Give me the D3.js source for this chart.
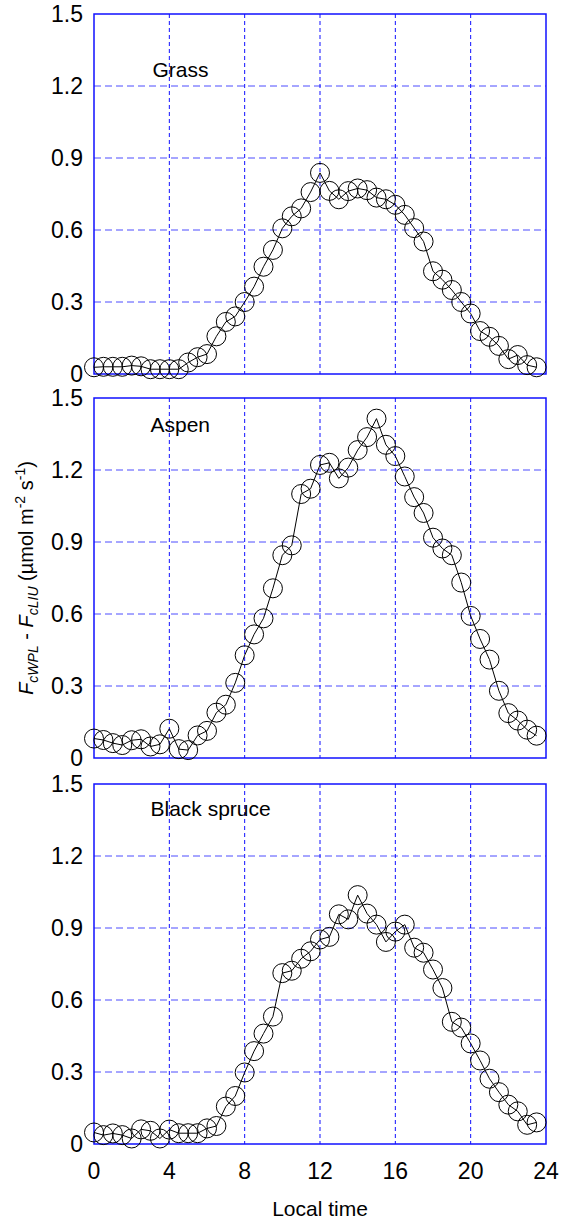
<!DOCTYPE html>
<html>
<head>
<meta charset="utf-8">
<script src="https://cdn.jsdelivr.net/npm/d3@7/dist/d3.min.js"></script>
<style>
  body { margin: 0; background: #fff; }
  svg text { font-family: Arial, "Liberation Sans", sans-serif; fill: #000; }
</style>
</head>
<body>
<div id="chart"></div>
<script>
// half-hourly local time
const hours = [0, 0.5, 1, 1.5, 2, 2.5, 3, 3.5, 4, 4.5, 5, 5.5, 6, 6.5, 7, 7.5,
    8, 8.5, 9, 9.5, 10, 10.5, 11, 11.5, 12, 12.5, 13, 13.5, 14, 14.5, 15, 15.5,
    16, 16.5, 17, 17.5, 18, 18.5, 19, 19.5, 20, 20.5, 21, 21.5, 22, 22.5, 23, 23.5];

const grass = [0.028, 0.030, 0.030, 0.030, 0.035, 0.032, 0.020, 0.020, 0.020, 0.020, 0.048, 0.070,
    0.083, 0.157, 0.217, 0.240, 0.300, 0.364, 0.447, 0.517, 0.607, 0.657, 0.690, 0.758,
    0.838, 0.763, 0.728, 0.762, 0.773, 0.766, 0.735, 0.728, 0.705, 0.663, 0.608, 0.552,
    0.428, 0.393, 0.350, 0.300, 0.252, 0.179, 0.155, 0.117, 0.062, 0.079, 0.037, 0.028];

const aspen = [0.081, 0.075, 0.062, 0.054, 0.074, 0.078, 0.048, 0.057, 0.122, 0.037, 0.033, 0.094,
    0.113, 0.189, 0.222, 0.313, 0.428, 0.515, 0.582, 0.707, 0.845, 0.886, 1.100, 1.122,
    1.221, 1.230, 1.165, 1.210, 1.283, 1.337, 1.414, 1.305, 1.258, 1.173, 1.087, 1.021,
    0.918, 0.873, 0.845, 0.731, 0.592, 0.496, 0.410, 0.280, 0.187, 0.156, 0.118, 0.093];

const spruce = [0.048, 0.037, 0.044, 0.037, 0.023, 0.061, 0.055, 0.023, 0.060, 0.045, 0.045, 0.045,
    0.065, 0.075, 0.156, 0.200, 0.298, 0.387, 0.460, 0.531, 0.712, 0.722, 0.772, 0.803,
    0.852, 0.863, 0.957, 0.936, 1.037, 0.960, 0.914, 0.842, 0.885, 0.914, 0.818, 0.797,
    0.727, 0.650, 0.509, 0.485, 0.419, 0.348, 0.272, 0.216, 0.164, 0.136, 0.080, 0.090];

const panelNames = ["Grass", "Aspen", "Black spruce"];
const panelSeries = [grass, aspen, spruce];

const xTicks = [0, 4, 8, 12, 16, 20, 24];
const yTicks = [0, 0.3, 0.6, 0.9, 1.2, 1.5];

// layout
const width = 566, height = 1223;
const left = 94, right = 546;
const panelTops = [14, 398, 784];
const panelH = 360;
const nameAt = [[3.1, 1.2375], [3.0, 1.36], [3.0, 1.365]];   // [hour, value] of panel label baseline
const blue = "#1010ff";

const svg = d3.select("#chart").append("svg")
    .attr("width", width)
    .attr("height", height);

const x = d3.scaleLinear().domain([0, 24]).range([left, right]);

panelSeries.forEach(function (series, i) {
    const top = panelTops[i];
    const y = d3.scaleLinear().domain([0, 1.5]).range([top + panelH, top]);
    const g = svg.append("g");

    // horizontal grid
    g.selectAll(".hgrid")
        .data(yTicks.slice(1, -1))
        .enter().append("line")
        .attr("x1", left).attr("x2", right)
        .attr("y1", d => y(d)).attr("y2", d => y(d))
        .style("stroke", blue)
        .style("stroke-opacity", 0.75)
        .style("stroke-width", 1)
        .style("stroke-dasharray", "7,4");

    // vertical grid
    g.selectAll(".vgrid")
        .data(xTicks.slice(1, -1))
        .enter().append("line")
        .attr("x1", d => x(d)).attr("x2", d => x(d))
        .attr("y1", top).attr("y2", top + panelH)
        .style("stroke", blue)
        .style("stroke-width", 1)
        .style("stroke-dasharray", "4,3");

    // frame
    g.append("rect")
        .attr("x", left).attr("y", top)
        .attr("width", right - left).attr("height", panelH)
        .style("fill", "none")
        .style("stroke", blue)
        .style("stroke-width", 1.5);

    // y tick labels
    g.selectAll(".ytick")
        .data(yTicks)
        .enter().append("text")
        .attr("x", left - 11)
        .attr("y", d => y(d))
        .attr("dy", "0.33em")
        .attr("text-anchor", "end")
        .style("font-size", "23px")
        .text(d => d === 0 ? "0" : d3.format(".1f")(d));

    // data line + open circles
    const pts = series.map((v, k) => [hours[k], v]);
    g.append("path")
        .datum(pts)
        .attr("d", d3.line().x(d => x(d[0])).y(d => y(d[1])))
        .style("fill", "none")
        .style("stroke", "#000")
        .style("stroke-width", 1);

    g.selectAll(".pt")
        .data(pts)
        .enter().append("circle")
        .attr("cx", d => x(d[0]))
        .attr("cy", d => y(d[1]))
        .attr("r", 9.5)
        .style("fill", "none")
        .style("stroke", "#000")
        .style("stroke-width", 1);

    g.append("text")
        .attr("x", x(nameAt[i][0]))
        .attr("y", y(nameAt[i][1]))
        .style("font-size", "21px")
        .text(panelNames[i]);
});

// x tick labels on bottom panel
const bottom = panelTops[2] + panelH;
svg.selectAll(".xtick")
    .data(xTicks)
    .enter().append("text")
    .attr("x", d => x(d))
    .attr("y", bottom + 35)
    .attr("text-anchor", "middle")
    .style("font-size", "23px")
    .text(d => d);

svg.append("text")
    .attr("x", (left + right) / 2)
    .attr("y", bottom + 72)
    .attr("text-anchor", "middle")
    .style("font-size", "21px")
    .text("Local time");

// y axis title
const title = svg.append("text")
    .attr("transform", "translate(33," + (panelTops[1] + panelH / 2) + ") rotate(-90)")
    .attr("text-anchor", "middle")
    .style("font-size", "20px");
title.append("tspan").style("font-style", "italic").text("F");
title.append("tspan").style("font-style", "italic").style("font-size", "14px").attr("dy", 5).text("cWPL");
title.append("tspan").attr("dy", -5).text(" -  ");
title.append("tspan").style("font-style", "italic").text("F");
title.append("tspan").style("font-style", "italic").style("font-size", "14px").attr("dy", 5).text("cLIU");
title.append("tspan").attr("dy", -5).text(" (\u00b5mol m");
title.append("tspan").style("font-size", "14px").attr("dy", -8).text("-2");
title.append("tspan").attr("dy", 8).text(" s");
title.append("tspan").style("font-size", "14px").attr("dy", -8).text("-1");
title.append("tspan").attr("dy", 8).text(")");
</script>
</body>
</html>
